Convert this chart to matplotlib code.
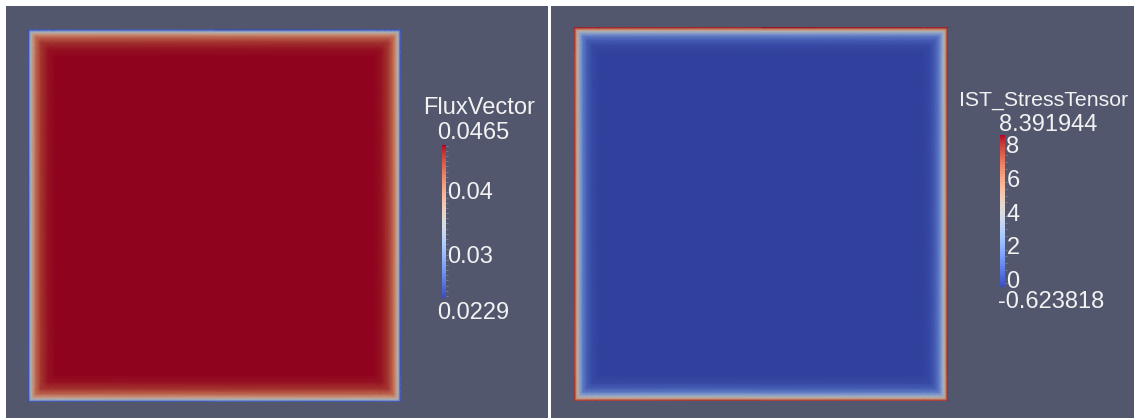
import numpy as np
import matplotlib
matplotlib.use("Agg")
import matplotlib.pyplot as plt
import matplotlib.transforms as mtransforms
from matplotlib.colors import Normalize, ListedColormap
from matplotlib.cm import ScalarMappable
from matplotlib.patches import Rectangle
from matplotlib.ticker import MaxNLocator

# Profils de champ en fonction de la distance au bord (fraction du côté)
flux_depth = np.array([0, 1.5, 3, 5, 8, 13, 20, 28]) / 373
flux_value = [0.0229, 0.028, 0.0345, 0.0385, 0.042, 0.0448, 0.0461, 0.0465]
flux_range = (0.0229, 0.0465)
flux_ticks = [0.03, 0.04]
flux_title = "FluxVector"
flux_min_label = "0.0229"
flux_max_label = "0.0465"

stress_depth = np.array([0, 1, 2.5, 4, 6, 9, 13, 18, 26]) / 373
stress_value = [8.39, 7.2, 5.4, 4.0, 2.5, 1.0, 0.2, -0.3, -0.55]
stress_range = (-0.623818, 8.391944)
stress_ticks = [0, 2, 4, 6, 8]
stress_title = "IST_StressTensor"
stress_min_label = "-0.623818"
stress_max_label = "8.391944"

W, H = 1134, 418
BG = "#52576e"
TXT = "#f2f2f2"
FONT = "Liberation Sans"

plt.rcParams["font.family"] = FONT


def box(x0, y0, x1, y1):
    # rectangle en pixels (origine en haut à gauche) -> coordonnées figure
    return [x0 / W, 1 - y1 / H, (x1 - x0) / W, (y1 - y0) / H]


def ftxt(x, y, s, **kw):
    fig.text(x / W, 1 - y / H, s, color=TXT, va="center", **kw)


# colormap "cool to warm" assombrie par l'éclairage de la scène
base = plt.get_cmap("coolwarm")
lit = ListedColormap(base(np.linspace(0, 1, 256))[:, :3] * 0.8)


def field(ax, depth, value, vrange):
    n = len(depth)
    norm = Normalize(*vrange)
    s = np.concatenate([depth, 1 - depth[::-1]])
    k = np.concatenate([np.arange(n), np.arange(n)[::-1]])
    C = np.asarray(value)[np.minimum.outer(k, k)]
    X, Y = np.meshgrid(s, s)
    ax.pcolormesh(X, Y, C, shading="gouraud", cmap=lit, norm=norm,
                  antialiased=False)
    # zone centrale à valeur constante
    d = depth[-1]
    ax.add_patch(Rectangle((d, d), 1 - 2 * d, 1 - 2 * d, lw=0,
                           facecolor=lit(norm(value[-1])), zorder=3))
    ax.set_xlim(0, 1)
    ax.set_ylim(0, 1)
    ax.axis("off")


def bar(rect, vrange, ticks):
    cax = fig.add_axes(box(*rect))
    cb = fig.colorbar(ScalarMappable(Normalize(*vrange), base), cax=cax,
                      ticks=ticks)
    cb.outline.set_visible(False)
    cax.set_yticklabels([f"{t:g}" for t in ticks])
    cax.yaxis.set_minor_locator(MaxNLocator(30))
    cax.tick_params(which="major", length=0, pad=1, labelsize=17,
                    labelcolor=TXT)
    cax.tick_params(which="minor", length=1.5, width=0.5,
                    color=(1, 1, 1, 0.35))
    # étiquettes légèrement décalées vers le bas
    shift = mtransforms.ScaledTranslation(0, -3 / 100, fig.dpi_scale_trans)
    for lab in cax.get_yticklabels():
        lab.set_transform(lab.get_transform() + shift)
    return cb


fig = plt.figure(figsize=(W / 100, H / 100), dpi=100)
fig.patch.set_facecolor("white")

for rect in [(6, 6, 548, 418), (551, 6, 1134, 418)]:
    bg = fig.add_axes(box(*rect))
    bg.set_facecolor(BG)
    bg.set_xticks([])
    bg.set_yticks([])
    for sp in bg.spines.values():
        sp.set_visible(False)

# Panneau gauche : FluxVector
ax1 = fig.add_axes(box(28, 29, 401, 402))
field(ax1, flux_depth, flux_value, flux_range)
bar((442, 145, 446, 298), flux_range, flux_ticks)
ftxt(479, 108, flux_title, ha="center", fontsize=17)
ftxt(437, 133, flux_max_label, ha="left", fontsize=17)
ftxt(437, 313, flux_min_label, ha="left", fontsize=17)

# Panneau droit : IST_StressTensor
ax2 = fig.add_axes(box(574, 27, 948, 401))
field(ax2, stress_depth, stress_value, stress_range)
bar((1000, 135, 1005, 287), stress_range, stress_ticks)
ftxt(1044, 100, stress_title, ha="center", fontsize=15.3)
ftxt(999, 125, stress_max_label, ha="left", fontsize=17)
ftxt(998, 302, stress_min_label, ha="left", fontsize=17)

fig.savefig("out.png", dpi=100, facecolor=fig.get_facecolor())
